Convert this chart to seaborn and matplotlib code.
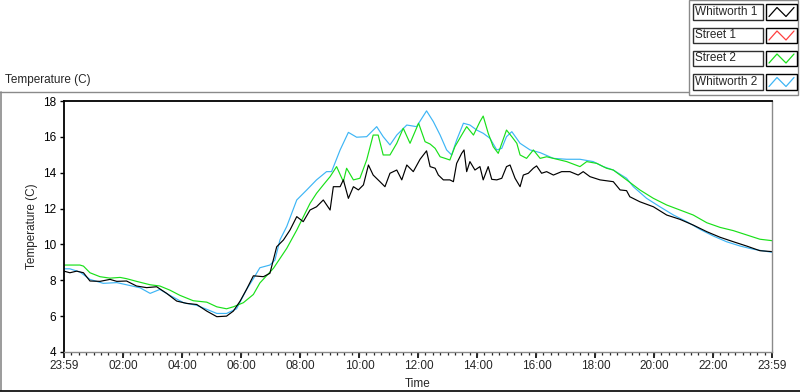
import numpy as np
import pandas as pd
import matplotlib
matplotlib.use("Agg")
import matplotlib.pyplot as plt
from matplotlib.lines import Line2D
from matplotlib.patches import Rectangle
import seaborn as sns

# ============================================
# Data (hours after 23:59, temperature in C)
# ============================================

w1_hours = [0.00, 0.20, 0.43, 0.66, 0.88, 1.22, 1.56, 1.79, 2.12, 2.46, 2.80, 3.14, 3.48, 3.82,
            4.16, 4.50, 4.84, 5.18, 5.51, 5.74, 5.97, 6.19, 6.42, 6.76, 6.98, 7.21, 7.44, 7.66,
            7.89, 8.11, 8.34, 8.56, 8.79, 9.02, 9.13, 9.36, 9.47, 9.64, 9.81, 9.98, 10.15, 10.32,
            10.48, 10.71, 10.88, 11.05, 11.28, 11.45, 11.62, 11.84, 12.07, 12.29, 12.41, 12.58,
            12.69, 12.86, 13.08, 13.20, 13.31, 13.48, 13.56, 13.65, 13.76, 13.93, 14.10, 14.21,
            14.38, 14.50, 14.67, 14.84, 15.00, 15.12, 15.29, 15.46, 15.57, 15.74, 15.91, 16.02,
            16.19, 16.36, 16.59, 16.87, 17.15, 17.43, 17.60, 17.83, 18.17, 18.62, 18.85, 19.07,
            19.18, 19.52, 19.98, 20.43, 20.88, 21.33, 21.79, 22.24, 22.69, 23.14, 23.59, 24.00]
w1_temp = [8.51, 8.42, 8.51, 8.42, 7.96, 7.94, 8.05, 7.94, 7.96, 7.68, 7.59, 7.64, 7.27, 6.84,
           6.71, 6.65, 6.28, 5.97, 6.00, 6.28, 6.84, 7.50, 8.25, 8.20, 8.39, 9.87, 10.25, 10.80,
           11.55, 11.27, 11.92, 12.10, 12.48, 11.92, 13.22, 13.22, 13.60, 12.57, 13.22, 13.04, 13.32, 14.43,
           13.87, 13.50, 13.22, 13.97, 14.15, 13.60, 14.43, 14.06, 14.75, 15.22, 14.34, 14.25,
           13.87, 13.60, 13.60, 13.50, 14.52, 15.08, 15.27, 14.06, 14.62, 14.15, 14.34, 13.60,
           14.34, 13.63, 13.60, 13.69, 14.34, 14.43, 13.69, 13.22, 13.87, 13.97, 14.25, 14.38,
           13.97, 14.06, 13.87, 14.06, 14.06, 13.87, 14.06, 13.78, 13.60, 13.50, 13.04, 13.00,
           12.66, 12.38, 12.10, 11.64, 11.40, 11.08, 10.71, 10.40, 10.15, 9.91, 9.65, 9.60]

s1_hours = []
s1_temp = []

s2_hours = [0.00, 0.54, 0.66, 0.88, 1.22, 1.56, 1.90, 2.12, 2.46, 2.92, 3.25, 3.59, 3.93, 4.38,
            4.84, 5.18, 5.51, 5.74, 6.08, 6.42, 6.64, 7.10, 7.55, 7.89, 8.34, 8.56, 8.79, 9.02,
            9.24, 9.47, 9.58, 9.81, 10.03, 10.26, 10.48, 10.65, 10.82, 11.05, 11.28, 11.50, 11.73,
            12.02, 12.12, 12.24, 12.41, 12.58, 12.75, 12.92, 13.08, 13.25, 13.48, 13.65, 13.88,
            14.10, 14.21, 14.38, 14.55, 14.72, 15.00, 15.18, 15.35, 15.46, 15.68, 15.91, 16.14,
            16.36, 16.59, 17.04, 17.49, 17.72, 18.06, 18.39, 18.62, 19.07, 19.52, 19.98, 20.43,
            20.88, 21.33, 21.79, 22.24, 22.69, 23.14, 23.59, 24.00]
s2_temp = [8.85, 8.85, 8.79, 8.42, 8.20, 8.12, 8.16, 8.09, 7.94, 7.75, 7.68, 7.45, 7.16, 6.86,
           6.78, 6.52, 6.41, 6.52, 6.75, 7.21, 7.85, 8.67, 9.78, 10.80, 12.29, 12.85, 13.32, 13.78,
           14.34, 13.50, 14.25, 13.60, 13.69, 14.71, 16.10, 16.10, 14.99, 14.99, 15.64, 16.48, 15.64,
           16.76, 16.29, 15.73, 15.60, 15.36, 14.89, 14.80, 14.71, 15.45, 16.10, 16.57, 16.10,
           16.85, 17.16, 16.20, 15.45, 15.08, 16.38, 16.01, 15.64, 14.99, 14.80, 15.27, 14.80,
           14.89, 14.80, 14.62, 14.34, 14.62, 14.52, 14.25, 14.15, 13.60, 13.04, 12.57, 12.20,
           11.92, 11.64, 11.21, 10.95, 10.77, 10.53, 10.29, 10.21]

w2_hours = [0.00, 0.20, 0.54, 0.88, 1.33, 1.79, 2.12, 2.58, 2.92, 3.25, 3.59, 4.05, 4.50, 4.84,
            5.18, 5.51, 5.85, 6.19, 6.42, 6.64, 6.98, 7.15, 7.32, 7.55, 7.89, 8.23, 8.56, 8.90,
            9.07, 9.36, 9.64, 9.92, 10.26, 10.60, 10.82, 11.05, 11.28, 11.62, 11.95, 12.29, 12.52,
            12.75, 12.97, 13.14, 13.31, 13.54, 13.76, 13.99, 14.21, 14.44, 14.67, 14.84, 15.00,
            15.18, 15.46, 15.80, 16.14, 16.59, 17.04, 17.49, 17.94, 18.28, 18.62, 19.07, 19.30,
            19.75, 20.20, 20.66, 21.11, 21.56, 22.01, 22.46, 22.92, 23.37, 24.00]
w2_temp = [8.64, 8.64, 8.46, 8.05, 7.83, 7.87, 7.75, 7.58, 7.27, 7.49, 7.16, 6.75, 6.60, 6.38,
           6.15, 6.15, 6.41, 7.49, 8.09, 8.70, 8.85, 9.13, 10.25, 11.00, 12.48, 13.04, 13.60, 14.06,
           14.06, 15.27, 16.25, 15.98, 16.01, 16.57, 16.01, 15.55, 16.10, 16.66, 16.57, 17.45, 16.85,
           16.10, 15.27, 14.99, 15.82, 16.76, 16.66, 16.38, 16.20, 15.92, 15.27, 15.36, 16.01,
           16.29, 15.64, 15.27, 15.12, 14.80, 14.75, 14.75, 14.62, 14.34, 14.15, 13.69, 13.22,
           12.57, 12.10, 11.64, 11.27, 10.84, 10.47, 10.15, 9.91, 9.73, 9.56]

series_names = ["Whitworth 1", "Street 1", "Street 2", "Whitworth 2"]
series_colors = ["#000000", "#ff4040", "#19e019", "#3db5f5"]

tick_hours = [0, 2.0167, 4.0167, 6.0167, 8.0167, 10.0167, 12.0167, 14.0167, 16.0167,
              18.0167, 20.0167, 22.0167, 24]
tick_labels = ["23:59", "02:00", "04:00", "06:00", "08:00", "10:00", "12:00", "14:00",
               "16:00", "18:00", "20:00", "22:00", "23:59"]

# ============================================
# Build long data frame
# ============================================

frames = []
for name, hrs, tmp in [("Whitworth 1", w1_hours, w1_temp), ("Street 1", s1_hours, s1_temp),
                       ("Street 2", s2_hours, s2_temp), ("Whitworth 2", w2_hours, w2_temp)]:
    frames.append(pd.DataFrame({"hours": hrs, "temp": tmp, "series": name}))
df = pd.concat(frames, ignore_index=True)

# ============================================
# Plot
# ============================================

sns.set_style("white")
plt.rcParams["font.family"] = ["Liberation Sans", "DejaVu Sans"]

fig = plt.figure(figsize=(8, 3.92), dpi=100)
W, H = 800, 392
ax = fig.add_axes([64 / W, 1 - 352 / H, (772 - 64) / W, (352 - 101) / H])

# draw in reverse so black ends on top
for name, col in list(zip(series_names, series_colors))[::-1]:
    sub = df[df["series"] == name]
    if len(sub) == 0:
        continue
    sns.lineplot(data=sub, x="hours", y="temp", color=col, lw=0.85,
                 estimator=None, sort=False, ax=ax, legend=False)

ax.set_xlim(0, 24)
ax.set_ylim(4, 18)
ax.set_yticks(range(4, 19, 2))
ax.set_xticks(tick_hours)
ax.set_xticklabels(tick_labels)
ax.set_xticks(np.arange(0, 24.01, 0.25), minor=True)

ax.tick_params(axis="y", direction="out", length=3, width=1, pad=2.5, labelsize=8.5,
               left=True, colors="black")
ax.tick_params(axis="x", which="major", direction="out", length=4, width=1.4, pad=2,
               labelsize=8.5, bottom=True)
ax.tick_params(axis="x", which="minor", direction="out", length=2.2, width=0.9, bottom=True)

for side in ["top", "left"]:
    ax.spines[side].set_color("black")
    ax.spines[side].set_linewidth(1.3)
for side in ["bottom", "right"]:
    ax.spines[side].set_color("#8a8a8a")
    ax.spines[side].set_linewidth(1.0)

ax.set_xlabel("Time", fontsize=8.5, va="top")
ax.xaxis.set_label_coords(0.5, -0.105)
ax.set_ylabel("Temperature (C)", fontsize=8.5, va="center")
ax.yaxis.set_label_coords(-0.045, 0.5)

# chart title at top left
fig.text(5 / W, 1 - 80 / H, "Temperature (C)", fontsize=8.5, ha="left", va="center")

# outer frame lines
fig.add_artist(Line2D([0, 689 / W], [1 - 92 / H, 1 - 92 / H], color="#8a8a8a", lw=1,
                      transform=fig.transFigure))
fig.add_artist(Line2D([0.5 / W, 0.5 / W], [1 - 92 / H, 1 - 390 / H], color="#8a8a8a", lw=1.2,
                      transform=fig.transFigure))
fig.add_artist(Line2D([0, 1], [1 - 390.5 / H, 1 - 390.5 / H], color="black", lw=1.2,
                      transform=fig.transFigure))

# legend panel
fig.add_artist(Rectangle((689 / W, 1 - 95 / H), (798 - 689) / W, 95 / H, fill=False,
                         edgecolor="#8a8a8a", lw=1, transform=fig.transFigure))
row_tops = [4, 27.5, 50.5, 74]
for name, col, top in zip(series_names, series_colors, row_tops):
    h = 15.5
    fig.add_artist(Rectangle((692.5 / W, 1 - (top + h) / H), 70 / W, h / H, fill=False,
                             edgecolor="#303030", lw=1, transform=fig.transFigure))
    fig.text(695 / W, 1 - (top + h / 2) / H, name, fontsize=8.5, ha="left", va="center")
    fig.add_artist(Rectangle((766 / W, 1 - (top + h) / H), 31 / W, h / H, fill=False,
                             edgecolor="black", lw=1, transform=fig.transFigure))
    ix = np.array([769, 777, 786, 794]) / W
    iy = 1 - (top + np.array([12.5, 3.5, 12.5, 3.5])) / H
    fig.add_artist(Line2D(ix, iy, color=col, lw=0.9, transform=fig.transFigure))

fig.savefig("out.png", dpi=100)
